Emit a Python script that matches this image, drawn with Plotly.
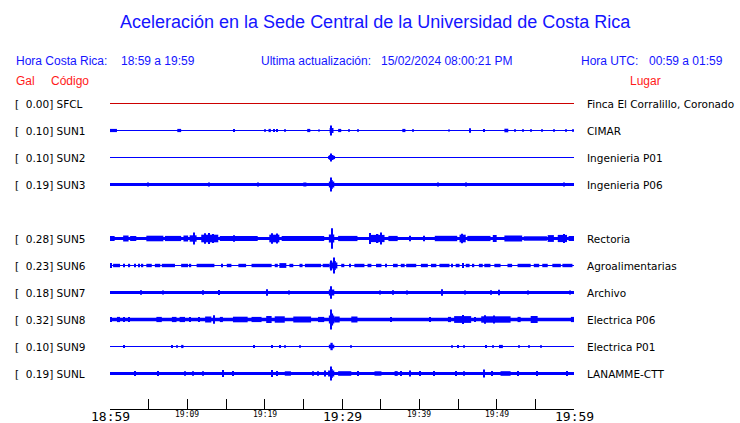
import plotly.graph_objects as go

# ---------------- data ----------------
CODES = ["SFCL", "SUN1", "SUN2", "SUN3", "SUN5", "SUN6", "SUN7", "SUN8", "SUN9", "SUNL"]
GAL = [0.00, 0.10, 0.10, 0.19, 0.28, 0.23, 0.18, 0.32, 0.10, 0.19]
PLACES = ["Finca El Corralillo, Coronado", "CIMAR", "Ingenieria P01", "Ingenieria P06",
          "Rectoria", "Agroalimentarias", "Archivo", "Electrica P06", "Electrica P01", "LANAMME-CTT"]
ROWS = [0, 1, 2, 3, 5, 6, 7, 8, 9, 10]          # SUN4 slot is empty
BASE_AMP = [0.5, 0.5, 0.5, 1.5, 1.6, 0.5, 1.5, 1.7, 0.5, 1.6]   # background half-amplitude
TICK_MINUTES = [0, 10, 20, 30, 40, 50, 60]
TICK_LABELS = ["18:59", "19:09", "19:19", "19:29", "19:39", "19:49", "19:59"]
MAJOR_LABELS = ["18:59", "19:29", "19:59"]
WINDOW_MIN = [0, 60]

# events per station: (start minute, end minute, half amplitude)
SFCL_EV = []
SUN1_EV = [(0.0, 0.9, 1.6), (8.7, 9.2, 1.6), (16.0, 16.1, 1.4), (20.0, 20.1, 1.3), (20.5, 20.8, 1.6),
           (21.2, 21.3, 1.4), (21.5, 21.6, 1.4), (22.6, 22.7, 1.3), (25.5, 25.9, 1.6), (27.0, 27.1, 1.0),
           (28.4, 28.9, 2.5), (28.55, 28.65, 5.0), (29.5, 29.9, 1.6), (30.9, 31.0, 1.2), (32.0, 32.1, 1.2),
           (37.8, 38.2, 1.6), (39.1, 39.2, 1.3), (43.8, 43.9, 1.0), (46.55, 46.65, 2.3), (48.3, 48.4, 1.4),
           (51.0, 51.5, 1.8), (52.3, 52.4, 1.3), (53.3, 53.4, 1.3), (54.4, 54.5, 1.3), (55.8, 55.9, 1.3),
           (57.3, 57.4, 1.3), (58.9, 59.0, 1.3), (59.8, 59.9, 1.3)]
SUN2_EV = [(28.2, 29.1, 1.6), (28.35, 28.9, 2.5), (28.55, 28.65, 4.0)]
SUN3_EV = [(4.9, 5.0, 2.0), (12.7, 12.8, 2.0), (19.1, 19.2, 2.0), (25.0, 25.4, 2.0), (42.4, 42.5, 2.0),
           (46.0, 46.1, 2.0), (58.7, 58.8, 2.0), (28.3, 29.0, 3.0), (28.45, 28.8, 4.5), (28.55, 28.65, 7.0)]
SUN5_EV = [(0.0, 0.6, 2.5), (1.7, 2.4, 3.0), (2.6, 3.4, 2.5), (4.7, 6.9, 2.8), (7.1, 9.2, 2.6),
           (9.5, 10.1, 3.0), (10.3, 11.2, 3.2), (10.85, 10.95, 6.0), (11.8, 14.0, 3.8), (12.2, 12.4, 5.2),
           (12.7, 12.8, 5.5), (13.2, 13.4, 4.5), (14.2, 19.1, 2.6), (16.0, 16.1, 3.2), (20.6, 21.9, 3.8),
           (20.9, 21.0, 5.2), (21.5, 21.6, 5.0), (22.2, 27.7, 2.6), (28.3, 29.0, 4.0), (28.6, 28.7, 10.3),
           (29.5, 32.0, 2.6), (33.5, 35.5, 3.6), (33.6, 33.7, 5.5), (34.5, 34.7, 4.5), (35.0, 35.1, 6.0),
           (36.0, 37.2, 2.6), (38.8, 38.9, 2.8), (40.5, 40.7, 2.8), (42.0, 44.9, 2.7), (45.2, 46.0, 3.8),
           (45.5, 45.6, 4.8), (46.2, 49.2, 2.6), (49.5, 50.0, 3.5), (51.0, 53.3, 3.0), (53.5, 56.5, 2.2),
           (56.6, 57.4, 3.4), (57.9, 59.1, 3.6), (58.6, 58.7, 4.6), (59.3, 60.0, 2.5)]
SUN6_EV = [(0.0, 0.2, 2.5), (0.4, 1.3, 1.7), (1.7, 1.9, 1.7), (2.4, 2.6, 1.7), (3.2, 3.3, 1.7),
           (3.7, 3.8, 1.7), (4.1, 4.3, 1.7), (4.7, 5.4, 1.7), (5.8, 6.5, 1.7), (6.7, 8.4, 1.7),
           (9.2, 10.1, 1.7), (10.3, 10.5, 1.7), (11.2, 13.5, 1.7), (14.4, 14.6, 1.7), (15.1, 15.7, 1.7),
           (16.6, 17.6, 1.7), (18.3, 20.9, 1.7), (21.3, 21.7, 1.7), (21.9, 22.8, 2.4), (23.2, 23.7, 1.7),
           (24.5, 24.9, 1.7), (25.2, 27.3, 1.7), (27.5, 28.4, 1.7), (28.4, 29.4, 3.0), (28.55, 28.65, 5.0),
           (28.8, 29.2, 4.5), (28.95, 29.05, 8.0), (29.9, 30.3, 1.7), (31.0, 31.1, 1.7), (31.6, 32.9, 1.7),
           (33.3, 33.8, 1.7), (34.4, 35.1, 1.7), (35.7, 35.8, 1.7), (36.6, 37.2, 1.7), (37.6, 38.1, 1.7),
           (38.3, 39.6, 1.7), (40.2, 41.1, 1.7), (41.5, 42.2, 1.7), (42.6, 43.9, 1.7), (44.1, 44.3, 1.7),
           (44.7, 45.2, 1.7), (45.6, 45.7, 2.5), (46.0, 46.5, 1.7), (46.9, 47.1, 1.7), (47.7, 48.2, 1.7),
           (48.4, 49.2, 1.7), (49.7, 50.5, 1.7), (51.4, 52.0, 1.7), (52.7, 54.4, 1.7), (54.8, 55.5, 1.7),
           (55.9, 56.6, 1.7), (57.2, 58.3, 1.7), (58.5, 59.8, 1.7)]
SUN7_EV = [(3.9, 4.0, 2.2), (6.8, 6.9, 2.0), (12.0, 12.1, 2.2), (14.0, 14.1, 2.4), (20.2, 20.3, 3.3),
           (23.1, 23.2, 2.0), (28.3, 29.0, 3.0), (28.55, 28.65, 6.3), (34.8, 34.9, 2.0), (36.6, 36.7, 2.3),
           (38.3, 38.4, 2.1), (42.9, 43.0, 3.3), (45.8, 45.9, 2.0), (49.2, 49.3, 2.2), (50.2, 50.3, 2.7),
           (54.0, 54.1, 2.0), (59.4, 59.5, 2.0)]
SUN8_EV = [(0.0, 0.2, 2.6), (0.9, 1.3, 2.6), (1.7, 1.9, 2.6), (2.35, 2.45, 2.6), (6.0, 6.7, 2.6),
           (8.0, 8.6, 2.6), (9.0, 9.7, 2.6), (10.3, 10.4, 2.6), (11.4, 11.5, 2.6), (12.3, 13.1, 3.0),
           (13.4, 13.5, 4.3), (14.2, 14.6, 2.6), (15.9, 17.8, 2.8), (18.3, 19.6, 2.6), (20.2, 20.9, 3.5),
           (21.3, 22.6, 3.2), (23.7, 26.0, 3.0), (26.9, 27.7, 2.6), (28.3, 29.0, 4.0), (28.45, 28.85, 6.0),
           (28.55, 28.65, 10.0), (29.0, 29.7, 3.0), (31.2, 32.0, 3.0), (36.3, 36.4, 2.4), (41.3, 41.4, 2.6),
           (43.7, 44.1, 2.6), (44.5, 46.7, 3.4), (45.55, 45.65, 4.6), (47.1, 47.2, 2.6), (48.0, 51.8, 3.2),
           (48.5, 48.6, 4.3), (49.65, 49.75, 4.0), (52.7, 53.1, 2.6), (54.4, 55.3, 3.5), (59.6, 60.0, 2.6)]
SUN9_EV = [(1.8, 1.9, 1.5), (8.0, 8.1, 1.4), (8.6, 8.7, 1.3), (9.2, 9.5, 1.6), (18.55, 18.65, 1.4),
           (20.85, 20.95, 1.4), (21.9, 22.0, 1.4), (22.55, 22.65, 1.2), (24.5, 24.6, 1.2), (28.3, 29.0, 1.8),
           (28.5, 28.8, 3.7), (31.05, 31.15, 1.2), (44.15, 44.25, 1.2), (44.9, 45.0, 1.4), (45.7, 45.8, 1.2),
           (48.5, 48.7, 1.6), (49.45, 49.55, 1.2), (50.3, 50.8, 1.6), (52.85, 52.95, 1.2), (54.15, 54.25, 1.2),
           (55.65, 55.75, 1.2)]
SUNL_EV = [(3.2, 3.3, 2.6), (6.1, 6.2, 2.6), (9.65, 9.75, 2.3), (10.7, 10.8, 2.2), (12.0, 12.1, 2.3),
           (14.6, 14.7, 3.4), (15.9, 16.0, 2.5), (20.9, 21.0, 3.4), (21.5, 21.6, 2.4), (22.6, 23.4, 2.2),
           (26.2, 26.3, 2.2), (26.85, 26.95, 2.2), (27.7, 27.8, 3.0), (28.2, 29.0, 3.0), (28.45, 28.8, 4.5),
           (28.55, 28.65, 7.0), (29.5, 31.2, 2.3), (32.0, 32.1, 2.6), (34.2, 35.1, 2.2), (36.8, 37.2, 2.4),
           (37.6, 37.7, 2.4), (38.8, 38.9, 3.0), (40.0, 40.1, 2.4), (41.9, 42.0, 2.4), (44.7, 44.8, 2.4),
           (45.75, 45.85, 2.2), (48.25, 48.35, 4.0), (49.4, 49.5, 2.4), (50.5, 51.8, 2.3), (52.65, 52.75, 2.4),
           (55.2, 55.3, 2.4), (59.1, 59.2, 2.4)]
EVENTS = [SFCL_EV, SUN1_EV, SUN2_EV, SUN3_EV, SUN5_EV, SUN6_EV, SUN7_EV, SUN8_EV, SUN9_EV, SUNL_EV]

# ---------------- layout constants ----------------
W, H = 740, 423
PX_L, PX_R = 110, 574          # plot area horizontal extent (px)
PX_T, PX_B = 90, 409           # plot area vertical extent (px)
ROW0_PX, ROW_SP = 103.5, 27.0  # first row centre and spacing (px)
BLUE = "#0000ff"
TXT_BLUE = "#1414ff"
TXT_RED = "#ff1a1a"
SANS = "Liberation Sans, Arial, sans-serif"
DJ = "DejaVu Sans, sans-serif"
MONO = "DejaVu Sans Mono, monospace"

def px2x(px):
    return (px - PX_L) / (PX_R - PX_L)

def py2y(py):
    return (PX_B - py) / (PX_B - PX_T)

y_top = (PX_T - ROW0_PX)
y_bot = (PX_B - ROW0_PX)

fig = go.Figure()
MIN_W = 0.13
for i, code in enumerate(CODES):
    off = ROWS[i] * ROW_SP
    color = "#cc0000" if code == "SFCL" else BLUE
    xs = [(WINDOW_MIN[0] + WINDOW_MIN[1]) / 2]
    ws = [WINDOW_MIN[1] - WINDOW_MIN[0]]
    bs = [off - BASE_AMP[i]]
    hs = [2 * BASE_AMP[i]]
    for (s, e, a) in EVENTS[i]:
        xs.append((s + e) / 2)
        ws.append(max(e - s, MIN_W))
        bs.append(off - a)
        hs.append(2 * a)
    fig.add_trace(go.Bar(x=xs, y=hs, base=bs, width=ws, marker=dict(color=color, line=dict(width=0)),
                         hoverinfo="skip", showlegend=False))

ann = []
def text(px, py, s, size, color, family, xanchor="left"):
    ann.append(dict(xref="paper", yref="paper", x=px2x(px), y=py2y(py), text=s, showarrow=False,
                    xanchor=xanchor, yanchor="middle", font=dict(size=size, color=color, family=family),
                    borderpad=0))

text(375, 22, "Aceleración en la Sede Central de la Universidad de Costa Rica", 18, TXT_BLUE, SANS, "center")
text(15, 61, "Hora Costa Rica:", 12, TXT_BLUE, SANS)
text(120, 61, "18:59 a 19:59", 12, TXT_BLUE, SANS)
text(260, 61, "Ultima actualización:", 12, TXT_BLUE, SANS)
text(380, 61, "15/02/2024 08:00:21 PM", 12, TXT_BLUE, SANS)
text(580, 61, "Hora UTC:", 12, TXT_BLUE, SANS)
text(724, 61, "00:59 a 01:59", 12, TXT_BLUE, SANS, "right")
text(15, 81, "Gal", 12, TXT_RED, SANS)
text(50, 81, "Código", 12, TXT_RED, SANS)
text(662, 81, "Lugar", 12, TXT_RED, SANS, "right")

for i, code in enumerate(CODES):
    py = ROW0_PX + ROWS[i] * ROW_SP
    text(14, py, "[\u00a0\u00a0%.2f] %s" % (GAL[i], code), 10.5, "black", DJ)
    text(586, py, PLACES[i], 10.5, "black", DJ)

for m, lab in zip(TICK_MINUTES, TICK_LABELS):
    big = lab in MAJOR_LABELS
    ann.append(dict(xref="x", yref="paper", x=m, y=py2y(416.0 if big else 414.0), text=lab,
                    showarrow=False, xanchor="center", yanchor="middle", borderpad=0,
                    font=dict(size=13 if big else 8, color="black", family=MONO)))

fig.update_layout(
    width=W, height=H, autosize=False,
    margin=dict(l=PX_L, r=W - PX_R, t=PX_T, b=H - PX_B, pad=0),
    paper_bgcolor="white", plot_bgcolor="white",
    barmode="overlay",
    annotations=ann,
    xaxis=dict(range=WINDOW_MIN, showgrid=False, zeroline=False, showline=True, linecolor="black",
               linewidth=1, ticks="inside", ticklen=10, tickcolor="black", tickwidth=1,
               tickvals=list(range(WINDOW_MIN[0], WINDOW_MIN[1] + 1, 5)), showticklabels=False,
               fixedrange=True),
    yaxis=dict(range=[y_bot, y_top], showgrid=False, zeroline=False, showline=False,
               showticklabels=False, ticks="", fixedrange=True),
)

fig.write_html("out.html", config={"displayModeBar": False},
               post_script="document.body.style.margin='0';document.body.style.overflow='hidden';")
